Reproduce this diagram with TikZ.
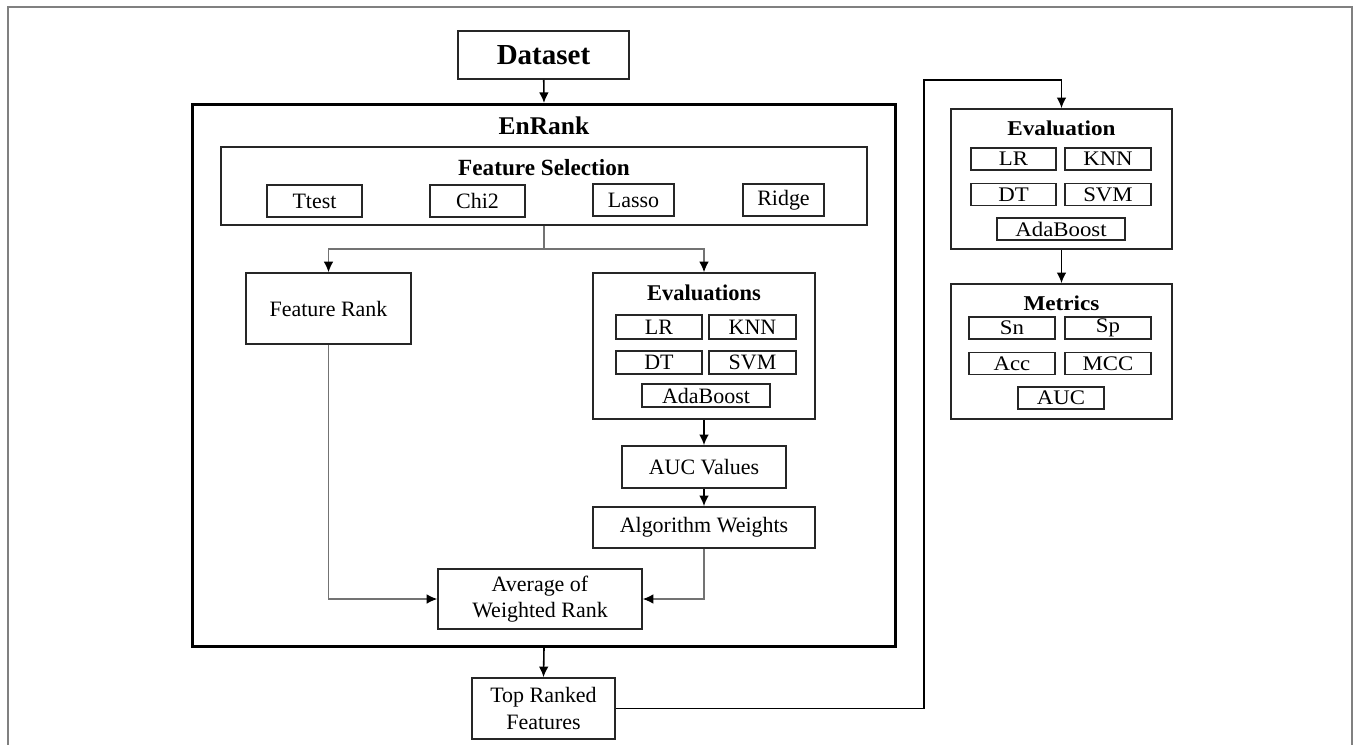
\documentclass[tikz,border=0pt]{standalone}
\usepackage{fontspec}
\setmainfont{Liberation Serif}
\newfontfamily\widefont[FakeStretch=1.1]{Liberation Serif}
\usepackage{tikz}
\usetikzlibrary{arrows.meta,positioning}

\begin{document}
\begin{tikzpicture}[x=0.02cm,y=-0.02cm,>={Latex[length=6pt,width=5.5pt,black]},
  box/.style={draw=black!85,line width=1pt,inner sep=0pt,align=center,font=\fontsize{12.5}{15}\selectfont},
  algo/.style={box,minimum height=0.47cm},
  ralgo/.style={box,minimum width=1.71cm,minimum height=0.44cm,font=\widefont\fontsize{11.8}{13}\selectfont},
  title/.style={anchor=base,font=\bfseries\fontsize{12.8}{15}\selectfont},
  link/.style={draw=black!55,line width=0.6pt},
  flow/.style={draw=black,line width=0.9pt}]
\useasboundingbox (0,0) rectangle (1356,744);
\draw[black!50,line width=0.6pt] (8,7) rectangle (1352,746);

\node[box,minimum width=3.42cm,minimum height=0.96cm,font=\bfseries\fontsize{16.5}{18}\selectfont] (dataset) at (543.5,55) {Dataset};
\node[draw=black,line width=1.8pt,inner sep=0pt,minimum width=14.06cm,minimum height=10.84cm] (enrank) at (544,375.5) {};
\node[title,font=\bfseries\fontsize{14.5}{17}\selectfont] (enranktitle) at (544,134) {EnRank};

\node[box,minimum width=12.92cm,minimum height=1.56cm] (fs) at (544,186) {};
\node[title,font=\bfseries\fontsize{13.2}{15}\selectfont] (fstitle) at (544,175) {Feature Selection};
\node[box,minimum width=1.9cm,minimum height=0.64cm] (ttest) at (314.5,201) {Ttest};
\node[box,minimum width=1.9cm,minimum height=0.64cm] (chi) at (477.5,201) {Chi2};
\node[box,minimum width=1.62cm,minimum height=0.64cm] (lasso) at (633.5,200) {Lasso};
\node[box,minimum width=1.62cm,minimum height=0.64cm] (ridge) at (783.5,200) {Ridge};

\node[box,minimum width=3.3cm,minimum height=1.42cm] (frank) at (328.5,308.5) {Feature Rank};
\node[box,minimum width=4.44cm,minimum height=2.92cm] (evals) at (704,346) {};
\node[title] (evalstitle) at (704,300) {Evaluations};
\node[algo,minimum width=1.72cm] (lr) at (659,327) {LR};
\node[algo,minimum width=1.74cm] (knn) at (752.5,327) {KNN};
\node[algo,minimum width=1.72cm] (dt) at (659,362.5) {DT};
\node[algo,minimum width=1.74cm] (svm) at (752.5,362.5) {SVM};
\node[algo,minimum width=2.56cm] (ada) at (706,395.5) {AdaBoost};

\node[box,minimum width=3.28cm,minimum height=0.84cm] (aucval) at (704,467) {AUC Values};
\node[box,minimum width=4.44cm,minimum height=0.82cm] (weights) at (704,527.5) {Algorithm Weights};
\node[box,minimum width=4.08cm,minimum height=1.2cm] (avg) at (540,599) {Average of\\Weighted Rank};
\node[box,minimum width=2.86cm,minimum height=1.22cm] (top) at (543.5,708.5) {Top Ranked\\Features};

\node[box,minimum width=4.42cm,minimum height=2.8cm] (evalr) at (1061.5,179) {};
\node[title,font=\widefont\bfseries\fontsize{12}{14}\selectfont] (evalrtitle) at (1061.5,135) {Evaluation};
\node[ralgo] (lrr) at (1013.5,159) {LR};
\node[ralgo] (knnr) at (1108,159) {KNN};
\node[ralgo] (dtr) at (1013.5,194.5) {DT};
\node[ralgo] (svmr) at (1108,194.5) {SVM};
\node[ralgo,minimum width=2.56cm] (adar) at (1061,229) {AdaBoost};

\node[box,minimum width=4.42cm,minimum height=2.7cm] (metrics) at (1061.5,351.5) {};
\node[title,font=\widefont\bfseries\fontsize{12}{14}\selectfont] (metricstitle) at (1061.5,310) {Metrics};
\node[ralgo] (sn) at (1012,328) {Sn};
\node[ralgo] (sp) at (1108,328) {Sp};
\node[ralgo] (acc) at (1012,363.5) {Acc};
\node[ralgo] (mcc) at (1108,363.5) {MCC};
\node[ralgo] (aucm) at (1061,398) {AUC};

\coordinate (branch) at (544,249);
\coordinate (turn) at (924,80);

\draw[flow,->] (dataset) -- (enrank.north);
\draw[link] (fs.south) -- (branch);
\draw[link,->] (branch) -| (frank.north);
\draw[link,->] (branch) -| (evals.north);
\draw[flow,->] (evals) -- (aucval);
\draw[flow,->] (aucval) -- (weights);
\draw[link,->] (frank.south) |- (avg.west);
\draw[link,->] (weights.south) |- (avg.east);
\draw[flow,->] (enrank.south) -- (top.north);
\draw[flow,->] (top.east) -| (turn) -| (evalr.north);
\draw[flow,->] (evalr) -- (metrics);
\end{tikzpicture}
\end{document}
